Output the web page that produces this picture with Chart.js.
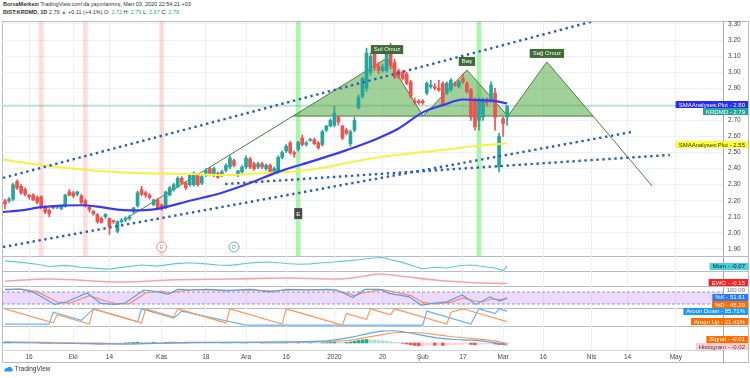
<!DOCTYPE html>
<html>
<head>
<meta charset="utf-8">
<script src="https://cdn.jsdelivr.net/npm/chart.js@4.4.1/dist/chart.umd.min.js"></script>
<style>
body{margin:0;width:750px;height:378px;background:#fff;position:relative;overflow:hidden;font-family:"Liberation Sans",Arial,sans-serif;}
canvas{position:absolute;left:2px;}
.hdr{position:absolute;left:3px;font-size:5.5px;color:#333;white-space:nowrap;}
.hdr .g{color:#26a69a;}
.ln{position:absolute;background:#b8bbc4;}
.logo{position:absolute;left:4px;top:365px;font-size:6.5px;color:#333;}
</style>
</head>
<body>
<div class="hdr" style="top:1px"><b>BorsaMerkezi</b> TradingView.com'da yayınlanmış, Mart 03, 2020 22:54:21 +03</div>
<div class="hdr" style="top:9px"><b>BIST:KRDMD, 1D</b> 2.79 <span class="g">▲</span> +0.11 (+4.1%) O: <span class="g">2.72</span> H: <span class="g">2.79</span> L: <span class="g">2.67</span> C: <span class="g">2.79</span></div>

<div class="ln" style="left:2px;top:21px;width:746px;height:1px"></div>
<div class="ln" style="left:2px;top:362px;width:746px;height:1px"></div>
<div class="ln" style="left:2px;top:21px;width:1px;height:342px"></div>
<div class="ln" style="left:748px;top:21px;width:1px;height:342px"></div>
<div class="ln" style="left:723px;top:21px;width:1px;height:342px;background:#a8abb4"></div>
<div class="ln" style="left:2px;top:256px;width:746px;height:1px"></div>
<div class="ln" style="left:2px;top:271px;width:746px;height:1px"></div>
<div class="ln" style="left:2px;top:286px;width:746px;height:1px"></div>
<div class="ln" style="left:2px;top:308px;width:746px;height:1px"></div>
<div class="ln" style="left:2px;top:326px;width:746px;height:1px"></div>
<div class="ln" style="left:2px;top:350px;width:721px;height:1px;background:#d0d3da"></div>

<canvas id="main" width="746" height="242" style="top:18px"></canvas>
<canvas id="mom" width="746" height="15" style="top:256px"></canvas>
<canvas id="ewo" width="746" height="15" style="top:271px"></canvas>
<canvas id="sto" width="746" height="22" style="top:286px"></canvas>
<canvas id="aro" width="746" height="18" style="top:308px"></canvas>
<canvas id="macd" width="746" height="36" style="top:326px"></canvas>

<div class="logo"><svg width="9" height="7" viewBox="0 0 9 7" style="vertical-align:-1px"><path d="M1 6.5 C0 6.5 0 4.5 1.2 4.3 C1.3 2.8 3 2.2 3.8 3.2 C4.5 1 7.6 1.3 7.8 3.6 C9.2 3.8 9 6.5 7.6 6.5 Z" fill="#2196f3"/></svg> TradingView</div>

<script>
const FONT = '"Liberation Sans", Arial, sans-serif';
const X_MIN = -0.75, X_MAX = 178.75;

// time axis (bar index -> label)
const timeTickIdx = [6, 17, 26, 39, 50, 60, 70, 82, 94, 104, 114, 124, 134, 146, 155, 167];
const timeTickLbl = ['16', 'Eki', '14', 'Kas', '18', 'Ara', '16', '2020', '20', 'Şub', '17', 'Mar', '16', 'Nis', '14', 'May'];
const priceTicks = [1.9, 2.0, 2.1, 2.2, 2.3, 2.4, 2.5, 2.6, 2.7, 2.8, 2.9, 3.0, 3.1, 3.2, 3.3];

// daily candles
const openP = [2.20,2.20,2.21,2.32,2.29,2.27,2.235,2.235,2.22,2.225,2.16,2.14,2.165,2.16,2.15,2.165,2.255,2.25,2.24,2.23,
  2.20,2.16,2.135,2.115,2.09,2.10,2.09,2.075,2.01,2.07,2.08,2.09,2.13,2.17,2.27,2.25,2.235,2.175,2.205,2.175,
  2.16,2.235,2.27,2.29,2.34,2.31,2.30,2.30,2.36,2.31,2.36,2.40,2.36,2.37,2.36,2.39,2.41,2.45,2.36,2.38,
  2.41,2.46,2.43,2.41,2.43,2.40,2.42,2.38,2.38,2.47,2.51,2.56,2.50,2.52,2.59,2.55,2.575,2.58,2.56,2.55,
  2.64,2.665,2.67,2.72,2.665,2.64,2.555,2.64,2.78,2.85,2.90,3.00,3.12,3.04,3.01,3.01,3.16,3.06,3.01,3.00,
  2.99,2.94,2.82,2.82,2.82,2.87,2.91,2.91,2.90,2.93,2.87,2.89,2.93,2.91,2.96,2.93,2.89,2.83,2.70,2.72,
  2.83,2.82,2.87,2.41,2.71,2.72];
const highP = [2.21,2.22,2.31,2.33,2.30,2.28,2.24,2.245,2.23,2.23,2.17,2.15,2.17,2.17,2.175,2.24,2.27,2.26,2.26,2.24,
  2.21,2.17,2.14,2.12,2.10,2.12,2.095,2.08,2.075,2.09,2.10,2.11,2.16,2.26,2.29,2.26,2.245,2.21,2.215,2.18,
  2.26,2.29,2.31,2.35,2.35,2.32,2.37,2.38,2.37,2.36,2.40,2.41,2.41,2.38,2.39,2.43,2.48,2.46,2.39,2.42,
  2.48,2.47,2.44,2.44,2.44,2.43,2.43,2.41,2.48,2.51,2.55,2.57,2.51,2.57,2.61,2.57,2.59,2.59,2.57,2.64,
  2.67,2.71,2.79,2.73,2.67,2.65,2.64,2.72,2.86,2.97,3.15,3.12,3.14,3.06,3.05,3.16,3.18,3.08,3.02,3.01,
  3.00,2.95,2.84,2.83,2.83,2.94,2.95,2.93,2.95,2.94,2.94,2.96,2.94,2.95,2.99,2.94,2.90,2.84,2.84,2.84,
  2.84,2.94,2.90,2.62,2.72,2.79];
const lowP = [2.15,2.19,2.20,2.27,2.24,2.23,2.21,2.20,2.18,2.15,2.12,2.10,2.15,2.15,2.145,2.16,2.23,2.22,2.23,2.18,
  2.16,2.13,2.11,2.06,2.06,2.09,1.99,2.06,2.00,2.06,2.07,2.08,2.12,2.16,2.23,2.22,2.21,2.17,2.15,2.14,
  2.15,2.23,2.26,2.28,2.30,2.27,2.29,2.29,2.29,2.30,2.35,2.36,2.35,2.34,2.35,2.38,2.40,2.41,2.35,2.37,
  2.40,2.40,2.39,2.40,2.40,2.39,2.37,2.37,2.37,2.46,2.50,2.49,2.47,2.51,2.54,2.54,2.57,2.55,2.52,2.54,
  2.63,2.66,2.66,2.67,2.58,2.61,2.54,2.63,2.77,2.84,2.88,2.98,3.01,2.99,3.00,3.00,3.02,2.96,2.96,2.95,
  2.92,2.84,2.80,2.80,2.80,2.86,2.90,2.89,2.88,2.79,2.86,2.88,2.91,2.90,2.93,2.87,2.70,2.64,2.64,2.70,
  2.79,2.81,2.64,2.38,2.60,2.67];
const closeP = [2.18,2.21,2.30,2.28,2.25,2.24,2.225,2.205,2.19,2.16,2.13,2.12,2.155,2.16,2.165,2.235,2.235,2.23,2.255,2.19,
  2.17,2.145,2.12,2.07,2.065,2.115,2.04,2.07,2.07,2.08,2.09,2.10,2.155,2.25,2.24,2.235,2.22,2.205,2.155,2.155,
  2.255,2.28,2.30,2.34,2.31,2.28,2.36,2.37,2.30,2.35,2.39,2.37,2.40,2.345,2.38,2.42,2.465,2.42,2.385,2.41,
  2.465,2.41,2.40,2.43,2.41,2.42,2.38,2.40,2.47,2.50,2.54,2.50,2.49,2.565,2.55,2.56,2.575,2.555,2.53,2.63,
  2.665,2.70,2.745,2.69,2.59,2.62,2.63,2.70,2.845,2.96,3.12,3.10,3.03,3.01,3.03,3.14,3.04,2.97,2.97,2.96,
  2.93,2.85,2.81,2.81,2.81,2.93,2.92,2.90,2.89,2.80,2.93,2.95,2.92,2.94,2.94,2.88,2.72,2.66,2.83,2.83,
  2.81,2.92,2.72,2.60,2.68,2.79];

// moving averages (read at a few bars)
const smaFastIdx = [-0.5, 4, 9, 14, 19, 24, 28, 31, 38, 46, 54, 61, 68, 77, 85, 92, 98, 104, 109, 114, 119, 122, 125];
const smaFastVal = [2.13, 2.14, 2.16, 2.17, 2.172, 2.16, 2.145, 2.14, 2.15, 2.20, 2.25, 2.31, 2.38, 2.45, 2.515, 2.58, 2.65, 2.75, 2.795, 2.83, 2.825, 2.82, 2.805];
const smaSlowIdx = [-0.5, 10, 21, 31, 46, 55, 62, 71, 78, 86, 93, 103, 109, 117, 125];
const smaSlowVal = [2.455, 2.42, 2.39, 2.375, 2.367, 2.36, 2.37, 2.38, 2.40, 2.44, 2.47, 2.50, 2.516, 2.54, 2.558];

// trend channel (dotted)
const chanUpIdx = [-0.5, 149.4], chanUpVal = [2.342, 3.337];
const chanLowIdx = [-0.5, 156.1], chanLowVal = [1.912, 2.628];
const chanMidIdx = [54.8, 165.5], chanMidVal = [2.304, 2.485];

// head & shoulders drawing
const hsIdx = [30.4, 71.7, 95.1, 104.1, 115.0, 125.2, 134.9, 146.4, 161.1];
const hsVal = [2.093, 2.727, 3.088, 2.727, 3.014, 2.727, 3.064, 2.727, 2.292];
const neckVal = 2.727;
const hsNames = [[2, 'Sol Omuz'], [4, 'Baş'], [6, 'Sağ Omuz']];

const redDays = [9, 20, 39];
const greenDays = [73, 118];
const lastPrice = 2.79;
const events = [[39, 'E', '#f28b8b'], [57, 'D', '#6aa6e8']];
const flagDay = 73, flagVal = 2.12;

// sub indicators
const momIdx = [0,4,8,11,15,19,23,26,30,34,38,42,46,50,53,56,60,63,66,70,73,76,79,82,85,88,91,94,96,99,102,104,107,110,113,116,119,122,124,125];
const momVal = [0.07,0.03,-0.02,-0.08,-0.05,-0.10,-0.13,-0.15,-0.09,-0.04,-0.07,-0.01,0.02,-0.01,-0.04,-0.05,0.0,0.03,0.04,0.0,-0.02,-0.01,0.02,0.04,0.07,0.10,0.14,0.16,0.10,0.03,-0.08,-0.14,-0.10,-0.12,-0.06,-0.04,-0.08,-0.12,-0.19,-0.07];
const ewoIdx = [0, 11, 29, 41, 56, 70, 83, 90, 93, 100, 107, 119, 125];
const ewoVal = [-0.05, 0.03, -0.09, -0.01, 0.03, 0.07, 0.03, 0.16, 0.23, 0.12, -0.01, -0.13, -0.15];
const stoKIdx = [0,3.5,7.2,12.4,15.4,20.4,23.9,27.4,29.9,34.6,38.3,40.6,43,46.5,50.3,55,61,65.7,70.4,75.4,80.2,82.6,86.6,89.6,93.4,95.6,100.6,103.6,106.5,110,113.8,117.3,120.7,123.2,125];
const stoKVal = [93,95,78,18,31,75,23,18,25,90,81,68,93,90,93,86,93,81,93,90,93,90,52,93,93,73,56,15,23,31,65,18,56,35,51.61];
const stoDIdx = [0,4,8,13,16,21,25,28,31,35,39,41,44,47,51,56,62,67,71,76,81,84,87,90,94,97,101,104,107,111,114,117,119,121,123,125];
const stoDVal = [90,94,82,30,24,62,35,20,22,75,85,75,85,91,92,88,90,85,90,91,92,80,62,80,92,80,62,28,20,28,50,35,30,45,42,45.29];
const aroUpIdx = [0,12,13,21,22,34,35,42,43,55,56,69,70,84,85,90,91,96,97,110,111,114,115,125];
const aroUpVal = [100,14,64,7,100,14,100,50,100,14,100,7,100,0,71,36,100,64,100,7,79,100,93,21.43];
const aroDnIdx = [0,11,12,19,22,33,34,42,44,60,61,104,105,116,118,122,123,125];
const aroDnVal = [7,7,79,29,100,21,100,43,86,0,0,0,86,7,100,71,100,85.71];
const macdIdx = [0,10,20,30,40,47,60,70,80,86,90,94,97,100,104,108,112,116,120,123,125];
const macdVal = [0.01,0.0,-0.01,-0.015,0.0,0.01,0.01,0.015,0.03,0.08,0.13,0.17,0.175,0.15,0.11,0.07,0.05,0.04,0.02,-0.01,-0.03];
const sigIdx = [0,10,20,30,40,50,60,70,80,86,90,94,98,102,106,110,114,118,122,125];
const sigVal = [0.015,0.01,-0.005,-0.01,-0.005,0.005,0.01,0.012,0.02,0.04,0.08,0.12,0.15,0.15,0.13,0.10,0.075,0.055,0.03,-0.01];
const histVal = [0.012,0.014,0.013,0.012,0.010,0.008,0.006,0.004,0.002,
  -0.002,-0.004,-0.005,-0.004,-0.003,-0.002,-0.002,-0.003,-0.004,-0.003,-0.005,-0.008,-0.010,-0.012,-0.015,-0.016,-0.014,-0.012,-0.010,
  -0.006,-0.002,0.002,0.004,
  0.008,0.012,0.011,0.010,0.009,0.010,0.008,0.007,0.010,0.012,0.013,0.011,0.010,0.012,0.011,0.009,0.007,0.006,
  0.005,0.004,0.003,0.002,0.002,0.003,0.004,0.002,0.000,0.001,0.003,0.002,0.001,0.000,-0.001,0.000,0.001,0.002,0.003,0.004,
  0.005,0.004,0.003,0.004,0.003,0.002,0.002,0.001,0.000,0.003,0.005,0.008,0.012,0.010,0.006,0.008,0.015,
  0.025,0.035,0.045,0.050,0.045,0.040,0.035,0.030,0.025,0.018,0.010,0.004,
  -0.005,-0.015,-0.025,-0.035,-0.040,-0.038,-0.030,-0.028,-0.032,-0.030,-0.035,-0.028,-0.025,-0.022,-0.020,-0.018,-0.016,-0.020,-0.025,-0.022,-0.015,-0.012,-0.010,-0.014,-0.022,-0.025,-0.020];

const UP = '#26a69a', DOWN = '#ef5350';
const pts = (xs, ys) => xs.map((x, k) => ({x: x, y: ys[k]}));

function xAxis(show) {
  return {
    type: 'linear', min: X_MIN, max: X_MAX, offset: false,
    grid: {color: '#eef0f4', drawTicks: false, offset: false},
    border: {display: false},
    ticks: {display: show, autoSkip: false, maxRotation: 0, padding: 3, color: '#444',
      font: {size: 6.5, family: FONT}, callback: (v, k) => timeTickLbl[k]},
    afterBuildTicks: s => { s.ticks = timeTickIdx.map(v => ({value: v})); },
    afterFit: s => { s.height = show ? 12 : 0; }
  };
}
function yAxis(min, max, ticks) {
  const o = {
    position: 'right', min: min, max: max,
    grid: {display: !!ticks, color: '#eef0f4', drawTicks: true, tickLength: 5, tickColor: 'rgba(0,0,0,0)'},
    border: {display: false},
    ticks: {display: !!ticks, padding: 0, color: '#444', font: {size: 6.5, family: FONT, lineHeight: '8px'},
      callback: v => Number(v).toFixed(2)},
    afterFit: s => { s.width = 25; }
  };
  if (ticks) o.afterBuildTicks = s => { s.ticks = ticks.map(v => ({value: v})); };
  return o;
}

// value boxes on the right edge
const rightLabels = {
  id: 'rightLabels',
  afterDraw(chart, args, opts) {
    const items = opts.items || [];
    if (!items.length) return;
    const ctx = chart.ctx, ys = chart.scales.y, H = 7;
    ctx.save();
    ctx.font = '6px ' + FONT;
    ctx.textBaseline = 'middle';
    ctx.textAlign = 'right';
    const list = items.filter(l => l.bg).map(l => Object.assign({}, l, {py: ys.getPixelForValue(l.v)}));
    for (let k = 1; k < list.length; k++) {
      if (list[k].py - list[k - 1].py < H + 0.5) list[k].py = list[k - 1].py + H + 0.5;
    }
    const bot = chart.chartArea.bottom;
    if (list.length && list[list.length - 1].py + H / 2 > bot) {
      const d = list[list.length - 1].py + H / 2 - bot;
      list.forEach(l => { l.py -= d; });
    }
    list.forEach(l => {
      const w = ctx.measureText(l.text).width + 6;
      ctx.fillStyle = l.bg;
      ctx.fillRect(chart.width - w, Math.round(l.py - H / 2), w, H);
      ctx.fillStyle = l.fg;
      ctx.fillText(l.text, chart.width - 3, l.py + 0.5);
    });
    items.filter(l => !l.bg).forEach(l => {
      ctx.fillStyle = l.fg;
      ctx.fillText(l.text, chart.width - 3, ys.getPixelForValue(l.v) + 2);
    });
    ctx.restore();
  }
};

// pattern names, event bubbles
const marks = {
  id: 'marks',
  afterDatasetsDraw(chart) {
    if (chart.canvas.id !== 'main') return;
    const ctx = chart.ctx, xs = chart.scales.x, ys = chart.scales.y;
    ctx.save();
    ctx.font = '6px ' + FONT;
    ctx.textAlign = 'center';
    ctx.textBaseline = 'middle';
    hsNames.forEach(([k, t]) => {
      const px = xs.getPixelForValue(hsIdx[k]), py = ys.getPixelForValue(hsVal[k]);
      const w = ctx.measureText(t).width + 6;
      ctx.fillStyle = '#3f6b35';
      ctx.fillRect(px - w / 2, py - 13, w, 9);
      ctx.fillStyle = '#fff';
      ctx.fillText(t, px, py - 8.5);
    });
    const by = chart.chartArea.bottom - 9;
    events.forEach(([d, t, c]) => {
      const px = xs.getPixelForValue(d);
      ctx.beginPath();
      ctx.arc(px, by, 5, 0, Math.PI * 2);
      ctx.fillStyle = '#fff';
      ctx.fill();
      ctx.strokeStyle = c;
      ctx.lineWidth = 1;
      ctx.stroke();
      ctx.fillStyle = c;
      ctx.fillText(t, px, by + 0.5);
    });
    const fx = xs.getPixelForValue(flagDay), fy = ys.getPixelForValue(flagVal);
    ctx.fillStyle = '#4a4a4a';
    ctx.fillRect(fx - 4, fy - 5.5, 8, 11);
    ctx.fillStyle = '#fff';
    ctx.fillText('E', fx, fy + 0.5);
    ctx.restore();
  }
};
Chart.register(rightLabels, marks);

const baseOpts = (y, x, items) => ({
  responsive: false, animation: false, devicePixelRatio: 1,
  layout: {padding: 0},
  scales: {x: x, y: y},
  plugins: {legend: {display: false}, tooltip: {enabled: false}, rightLabels: {items: items}}
});
const line = (data, color, width, extra) => Object.assign({
  type: 'line', data: data, borderColor: color, borderWidth: width,
  pointRadius: 0, fill: false, tension: 0, order: 1
}, extra || {});

// ---------- price pane ----------
const PMIN = 1.8563, PMAX = 3.3124;
new Chart(document.getElementById('main'), {
  type: 'bar',
  data: {
    datasets: [
      {type: 'bar', data: redDays.map(d => ({x: d, y: [PMIN, PMAX]})), backgroundColor: 'rgba(255,120,110,0.25)',
        barThickness: 4, grouped: false, order: 20},
      {type: 'bar', data: greenDays.map(d => ({x: d, y: [PMIN, PMAX]})), backgroundColor: 'rgba(90,235,90,0.5)',
        barThickness: 4, grouped: false, order: 20},
      line(pts([X_MIN, X_MAX], [lastPrice, lastPrice]), 'rgba(38,166,154,0.55)', 1, {order: 15}),
      line(pts(hsIdx, hsVal), '#4d7d3f', 1, {order: 12,
        fill: {target: {value: neckVal}, above: 'rgba(86,170,70,0.55)', below: 'rgba(0,0,0,0)'}}),
      line(pts([hsIdx[1], hsIdx[7]], [neckVal, neckVal]), '#4d7d3f', 1, {order: 11}),
      {type: 'bar', data: openP.map((o, k) => ({x: k, y: [lowP[k], highP[k]]})),
        backgroundColor: closeP.map((c, k) => c >= openP[k] ? UP : DOWN), barThickness: 1, grouped: false, order: 6},
      {type: 'bar', data: openP.map((o, k) => ({x: k, y: [o, closeP[k]]})),
        backgroundColor: closeP.map((c, k) => c >= openP[k] ? UP : DOWN), barThickness: 3, minBarLength: 1,
        grouped: false, order: 5},
      line(pts(smaSlowIdx, smaSlowVal), '#f7f23c', 2, {cubicInterpolationMode: 'monotone', order: 3}),
      line(pts(smaFastIdx, smaFastVal), '#3a3af2', 2.2, {cubicInterpolationMode: 'monotone', order: 2}),
      line(pts(chanUpIdx, chanUpVal), '#2c5fb4', 2.4, {borderDash: [2.4, 3.6], order: 1}),
      line(pts(chanLowIdx, chanLowVal), '#2c5fb4', 2.4, {borderDash: [2.4, 3.6], order: 1}),
      line(pts(chanMidIdx, chanMidVal), '#2c5fb4', 2.4, {borderDash: [2.4, 3.6], order: 1})
    ]
  },
  options: baseOpts(yAxis(PMIN, PMAX, priceTicks), xAxis(false), [
    {v: 2.80, text: 'SMAAnalyses:Plot - 2.80', bg: '#2a2aff', fg: '#fff'},
    {v: 2.79, text: 'KRDMD - 2.79', bg: '#26a69a', fg: '#fff'},
    {v: 2.55, text: 'SMAAnalyses:Plot - 2.55', bg: '#ffff33', fg: '#333'}
  ])
});

// ---------- indicator panes ----------
new Chart(document.getElementById('mom'), {
  type: 'line',
  data: {datasets: [line(pts(momIdx, momVal), '#56ccd9', 1.2)]},
  options: baseOpts(yAxis(-0.2, 0.2), xAxis(false), [{v: -0.07, text: 'Mom - -0.07', bg: '#45d0e0', fg: '#222'}])
});
new Chart(document.getElementById('ewo'), {
  type: 'line',
  data: {datasets: [line(pts(ewoIdx, ewoVal), '#f6a5a5', 1.6, {cubicInterpolationMode: 'monotone'})]},
  options: baseOpts(yAxis(-0.25, 0.35), xAxis(false), [{v: -0.15, text: 'EWO - -0.15', bg: '#ff1f1f', fg: '#fff'}])
});
new Chart(document.getElementById('sto'), {
  type: 'line',
  data: {datasets: [
    line(pts([X_MIN, X_MAX], [80, 80]), '#9a9aa8', 1, {borderDash: [3, 2], order: 5,
      fill: {target: {value: 20}, above: 'rgba(170,90,255,0.22)', below: 'rgba(170,90,255,0.22)'}}),
    line(pts([X_MIN, X_MAX], [20, 20]), '#9a9aa8', 1, {borderDash: [3, 2], order: 5}),
    line(pts(stoDIdx, stoDVal), '#ff8c52', 1.2, {order: 2}),
    line(pts(stoKIdx, stoKVal), '#5b9cf6', 1.2, {order: 1})
  ]},
  options: baseOpts(yAxis(0, 110), xAxis(false), [
    {v: 100, text: '100.00', fg: '#777'},
    {v: 51.61, text: '%K - 51.61', bg: '#2979ff', fg: '#fff'},
    {v: 45.29, text: '%D - 45.29', bg: '#ff6d00', fg: '#fff'}
  ])
});
new Chart(document.getElementById('aro'), {
  type: 'line',
  data: {datasets: [
    line(pts(aroUpIdx, aroUpVal), '#ff9a5c', 1.2),
    line(pts(aroDnIdx, aroDnVal), '#6ab4f5', 1.2)
  ]},
  options: baseOpts(yAxis(-5, 105), xAxis(false), [
    {v: 85.71, text: 'Aroon Down - 85.71%', bg: '#2196f3', fg: '#fff'},
    {v: 21.43, text: 'Aroon Up - 21.43%', bg: '#ff6d00', fg: '#fff'}
  ])
});
new Chart(document.getElementById('macd'), {
  type: 'bar',
  data: {datasets: [
    {type: 'bar', data: histVal.map((h, k) => ({x: k, y: h})), barThickness: 3, grouped: false, order: 5,
      backgroundColor: histVal.map((h, k) => {
        const p = k ? histVal[k - 1] : h;
        return h >= 0 ? (h >= p ? '#26a69a' : '#b2dfdb') : (h <= p ? '#ef5350' : '#ffcdd2');
      })},
    line(pts(sigIdx, sigVal), '#ff9a5c', 1.2, {cubicInterpolationMode: 'monotone', order: 2}),
    line(pts(macdIdx, macdVal), '#5ea6f3', 1.2, {cubicInterpolationMode: 'monotone', order: 1})
  ]},
  options: baseOpts(yAxis(-0.1, 0.243), xAxis(true), [
    {v: -0.01, text: 'Signal - -0.01', bg: '#ff6d00', fg: '#fff'},
    {v: -0.02, text: 'Histogram - -0.02', bg: '#ffcdd2', fg: '#444'}
  ])
});
</script>
</body>
</html>
